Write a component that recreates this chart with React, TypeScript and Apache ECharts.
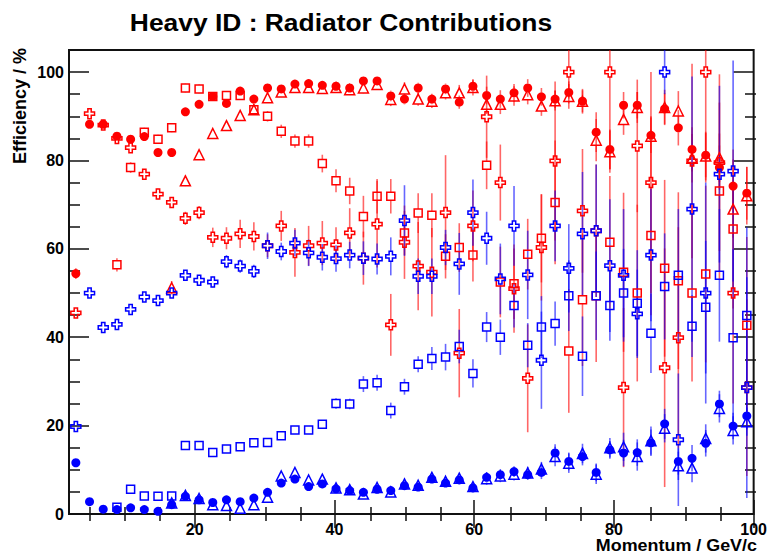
import React, { useEffect, useRef } from 'react';
import * as echarts from 'echarts';

// Bin centres (GeV/c): 50 bins between 2 and 100
const momentum = [
  2.98, 4.94, 6.90, 8.86, 10.82, 12.78, 14.74, 16.70, 18.66, 20.62,
  22.58, 24.54, 26.50, 28.46, 30.42, 32.38, 34.34, 36.30, 38.26, 40.22,
  42.18, 44.14, 46.10, 48.06, 50.02, 51.98, 53.94, 55.90, 57.86, 59.82,
  61.78, 63.74, 65.70, 67.66, 69.62, 71.58, 73.54, 75.50, 77.46, 79.42,
  81.38, 83.34, 85.30, 87.26, 89.22, 91.18, 93.14, 95.10, 97.06, 99.02,
];

const redAll = [
  54.4, 88.2, 88.2, 85.5, 84.8, 85.4, 81.8, 81.8, 91.0, 92.7,
  94.5, 92.9, 95.7, 93.9, 96.4, 96.2, 97.3, 97.4, 97.0, 96.8,
  96.4, 98.0, 98.0, 94.6, 93.9, 96.4, 93.9, 96.2, 93.2, 96.8,
  94.7, 93.9, 95.3, 96.4, 94.4, 93.9, 95.4, 93.4, 86.4, 82.5,
  92.5, 92.5, 85.7, 91.7, 87.4, 82.5, 81.2, 78.4, 74.2, 72.6,
];
const redAllErr = [
  1.2, 0.8, 0.8, 0.8, 0.8, 0.8, 0.8, 0.8, 0.8, 0.8,
  0.8, 0.8, 0.8, 0.8, 0.8, 0.8, 0.8, 0.8, 0.8, 0.8,
  1.0, 1.0, 1.0, 1.2, 1.2, 1.2, 1.2, 1.2, 1.5, 1.5,
  2.0, 2.0, 2.0, 2.0, 2.0, 2.0, 2.5, 2.5, 4.5, 4.5,
  3.0, 3.0, 4.0, 3.5, 4.0, 5.0, 5.0, 5.0, 6.0, 6.0,
];

const redTri = [
  null, null, null, null, null, null, null, 51.2, 75.4, 81.3,
  86.1, 87.9, 90.2, 91.5, 94.2, 95.5, 96.5, 96.5, 96.3, 96.5,
  96.0, 96.4, 97.2, 93.8, 96.2, 93.9, 93.4, 95.3, 95.3, 96.5,
  92.7, 92.7, 94.6, 94.9, 92.3, 93.5, 94.5, 93.4, 84.6, 82.0,
  89.3, 92.0, 85.5, 92.0, 91.2, 80.5, 81.0, 80.6, 69.0, 72.0,
];
const redTriErr = [
  0, 0, 0, 0, 0, 0, 0, 1.5, 1.2, 1.0,
  1.0, 1.0, 1.0, 1.0, 1.0, 1.0, 1.0, 1.0, 1.0, 1.0,
  1.2, 1.2, 1.2, 1.5, 1.5, 1.5, 1.5, 1.5, 1.8, 1.8,
  2.2, 2.2, 2.2, 2.2, 2.2, 2.2, 2.8, 2.8, 4.8, 4.8,
  3.5, 3.5, 4.5, 4.0, 4.5, 5.5, 5.5, 5.5, 6.5, 6.5,
];

const redSq = [
  null, null, null, 56.4, 78.4, 86.4, 84.8, 87.4, 96.4, 96.2,
  94.5, 94.7, 94.7, 91.5, 90.0, 86.6, 84.4, 84.4, 79.3, 75.4,
  73.1, 67.3, 71.9, 71.9, 63.6, 68.1, 67.6, 58.3, 60.3, 58.6,
  78.9, 52.5, 52.1, 58.8, 62.4, 70.5, 36.9, 48.5, 49.4, 61.5,
  54.7, 50.0, 63.0, 55.6, 52.8, 50.0, 54.3, 73.1, 64.5, 42.7,
];
const redSqErr = [
  0, 0, 0, 1.5, 1.2, 1.0, 1.0, 1.0, 1.0, 1.0,
  1.0, 1.0, 1.0, 1.2, 1.2, 1.5, 1.5, 1.5, 2.0, 2.6,
  3.0, 4.7, 3.9, 3.9, 5.0, 4.5, 5.0, 5.0, 5.5, 6.0,
  5.4, 8.0, 8.0, 8.0, 10.0, 14.0, 14.0, 15.0, 15.0, 15.0,
  18.0, 20.0, 18.0, 20.0, 20.0, 20.0, 20.0, 20.0, 18.0, 20.0,
];

const redCross = [
  45.5, 90.6, 88.0, 85.0, 82.9, 76.9, 72.4, 70.5, 66.9, 68.2,
  62.6, 62.4, 63.4, 62.8, 60.7, 65.2, 59.2, 60.7, 61.3, 60.9,
  63.6, 57.9, 65.6, 42.8, 61.5, 56.1, 54.7, 68.2, 36.4, 65.2,
  89.9, 75.0, 51.0, 30.7, 60.3, 79.9, 100.0, 68.6, 64.1, 100.0,
  28.6, 83.3, 75.0, 33.1, 39.9, 79.9, 100.0, 79.5, 50.0, 28.6,
];
const redCrossErr = [
  1.0, 1.0, 1.0, 1.0, 1.0, 1.0, 1.2, 1.2, 1.5, 1.5,
  2.2, 2.5, 3.2, 3.2, 2.6, 3.4, 5.5, 4.5, 5.0, 4.0,
  5.6, 6.0, 9.8, 7.0, 8.3, 10.0, 10.0, 13.0, 10.0, 8.0,
  9.3, 8.6, 10.0, 12.2, 12.0, 18.0, 6.0, 14.0, 15.0, 22.0,
  18.0, 15.0, 25.0, 27.0, 25.0, 22.0, 25.0, 20.0, 25.0, 20.0,
];

const blueAll = [
  11.6, 2.8, 1.1, 1.0, 1.4, 1.0, 0.6, 2.1, 4.0, 3.2,
  2.6, 3.2, 2.8, 3.6, 4.9, 7.0, 7.9, 6.2, 6.8, 5.7,
  5.3, 4.9, 5.6, 5.3, 6.4, 6.1, 7.9, 7.0, 7.7, 5.9,
  8.3, 8.9, 9.6, 8.9, 9.4, 13.8, 11.9, 13.0, 9.4, 14.5,
  13.8, 13.9, 16.1, 20.4, 11.9, 12.6, 16.0, 24.9, 19.9, 22.2,
];
const blueAllErr = [
  0.8, 0.5, 0.5, 0.5, 0.5, 0.5, 0.5, 0.5, 0.6, 0.6,
  0.6, 0.6, 0.6, 0.6, 0.6, 0.6, 0.6, 0.6, 0.6, 0.6,
  0.8, 0.8, 0.8, 0.8, 0.8, 0.8, 0.8, 0.8, 0.8, 0.8,
  1.2, 1.2, 1.2, 1.2, 1.5, 2.0, 2.0, 2.0, 2.0, 2.0,
  3.0, 3.0, 3.0, 3.4, 3.0, 3.0, 3.0, 3.0, 3.0, 3.0,
];

const blueTri = [
  null, null, null, null, null, null, null, 2.5, 4.2, 3.5,
  2.1, 1.9, 1.3, 2.1, 3.8, 8.6, 9.4, 7.7, 7.9, 5.9,
  5.5, 4.5, 6.0, 5.0, 6.8, 6.5, 8.3, 7.4, 8.1, 6.2,
  8.0, 8.6, 9.0, 9.3, 10.2, 13.0, 11.5, 13.7, 9.0, 15.0,
  15.2, 13.0, 16.6, 19.4, 10.9, 10.4, 17.1, 23.9, 18.9, 20.9,
];
const blueTriErr = [
  0, 0, 0, 0, 0, 0, 0, 0.6, 0.6, 0.6,
  0.7, 0.7, 0.7, 0.7, 0.7, 0.7, 0.7, 0.7, 0.7, 0.7,
  0.9, 0.9, 0.9, 0.9, 0.9, 0.9, 0.9, 0.9, 0.9, 0.9,
  1.4, 1.4, 1.4, 1.4, 1.6, 2.2, 2.2, 2.2, 2.2, 2.2,
  3.2, 3.2, 3.2, 3.2, 3.2, 3.2, 3.2, 3.2, 3.2, 3.2,
];

const blueSq = [
  null, null, null, 1.5, 5.6, 4.1, 4.0, 4.1, 15.5, 15.5,
  13.9, 14.7, 15.2, 16.1, 16.2, 17.7, 19.0, 19.0, 20.3, 25.0,
  24.9, 29.4, 29.7, 23.4, 28.8, 33.9, 35.2, 35.5, 37.9, 31.8,
  42.3, 40.0, 47.2, 38.2, 42.3, 43.1, 49.4, 35.7, 49.4, 47.2,
  50.0, 47.7, 40.9, 51.5, 54.0, 42.5, 46.8, 54.0, 39.9, 44.9,
];
const blueSqErr = [
  0, 0, 0, 0.7, 0.7, 0.7, 0.7, 0.7, 0.7, 0.7,
  0.7, 0.7, 0.7, 0.7, 0.7, 0.8, 0.8, 0.8, 0.9, 1.2,
  1.2, 1.8, 1.8, 1.8, 1.8, 1.8, 2.6, 3.0, 3.8, 3.2,
  3.4, 4.0, 5.0, 5.0, 7.0, 5.0, 8.0, 9.0, 10.0, 8.0,
  10.0, 12.0, 9.0, 12.0, 15.0, 7.0, 15.0, 15.0, 20.0, 20.0,
];

const blueCross = [
  19.8, 50.0, 42.2, 42.9, 46.3, 49.1, 48.3, 50.0, 54.0, 52.9,
  52.5, 57.1, 56.1, 54.9, 60.7, 59.4, 61.3, 59.1, 58.1, 57.8,
  58.6, 57.9, 57.7, 58.3, 66.4, 53.8, 53.8, 60.3, 56.6, 68.2,
  62.4, 53.2, 65.2, 54.1, 34.8, 65.2, 55.6, 63.4, 64.1, 56.2,
  54.0, 45.3, 58.6, 100.0, 16.8, 69.0, 50.0, 76.9, 77.6, 28.6,
];
const blueCrossErr = [
  0.8, 0.8, 0.8, 0.8, 0.8, 0.8, 0.8, 0.8, 1.0, 1.0,
  1.2, 1.5, 1.5, 1.5, 3.0, 2.0, 3.0, 3.0, 3.0, 3.0,
  3.0, 3.8, 3.5, 4.3, 8.0, 4.0, 4.0, 4.0, 7.0, 7.5,
  6.0, 8.0, 9.0, 10.0, 11.0, 8.0, 10.0, 14.0, 15.0, 15.0,
  15.0, 10.0, 15.0, 5.0, 15.0, 30.0, 25.0, 20.0, 25.0, 25.0,
];

const xTickLabels = [20, 40, 60, 80, 100];
const xMinorTicks = [5, 10, 15, 25, 30, 35, 45, 50, 55, 65, 70, 75, 85, 90, 95];
const yTickLabels = [0, 20, 40, 60, 80, 100];
const yMinorTicks = [5, 10, 15, 25, 30, 35, 45, 50, 55, 65, 70, 75, 85, 90, 95];

const FONT = '"Liberation Sans", Arial, Helvetica, sans-serif';
const RED = '#ff0000';
const BLUE = '#0000ff';
const CROSS = 'path://M3 0H6V3H9V6H6V9H3V6H0V3H3Z';

function points(ys: (number | null)[], errs: number[]) {
  const out: number[][] = [];
  ys.forEach((y, i) => {
    if (y !== null && y !== undefined) out.push([momentum[i], y, errs[i]]);
  });
  return out;
}

function errSeries(ys: (number | null)[], errs: number[], color: string, gap: number) {
  return {
    type: 'custom',
    xAxisIndex: 0,
    yAxisIndex: 0,
    clip: true,
    silent: true,
    z: 2,
    encode: { x: 0, y: 1 },
    data: points(ys, errs),
    renderItem: (params: any, api: any) => {
      const x = api.value(0);
      const y = api.value(1);
      const e = api.value(2);
      const c = api.coord([x, y]);
      const hi = api.coord([x, y + e]);
      const lo = api.coord([x, y - e]);
      const style = { stroke: color, lineWidth: 1.6 };
      const children: any[] = [];
      if (c[1] - gap > hi[1]) {
        children.push({ type: 'line', shape: { x1: c[0], y1: hi[1], x2: c[0], y2: c[1] - gap }, style });
      }
      if (lo[1] > c[1] + gap) {
        children.push({ type: 'line', shape: { x1: c[0], y1: c[1] + gap, x2: c[0], y2: lo[1] }, style });
      }
      return { type: 'group', children };
    },
  };
}

function markerSeries(ys: (number | null)[], errs: number[], color: string, symbol: string, size: number, filled: boolean) {
  return {
    type: 'scatter',
    xAxisIndex: 0,
    yAxisIndex: 0,
    silent: true,
    z: 3,
    symbol,
    symbolSize: size,
    data: points(ys, errs).map((p) => [p[0], p[1]]),
    itemStyle: filled
      ? { color, borderWidth: 0, opacity: 1 }
      : { color: 'rgba(255,255,255,0)', borderColor: color, borderWidth: 1.5, opacity: 1 },
  };
}

export default function App() {
  const ref = useRef<HTMLDivElement>(null);

  useEffect(() => {
    if (!ref.current) return;
    const chart = echarts.init(ref.current, null, { renderer: 'svg' });
    const GRID = { left: 69, right: 14, top: 50, bottom: 41 };
    const tickStyle = { color: '#111', width: 1.5 };
    const xBase = { type: 'value', min: 2, max: 100, axisLine: { show: false }, splitLine: { show: false } };
    const yBase = { type: 'value', min: 0, max: 105, axisLine: { show: false }, splitLine: { show: false } };
    const labelStyle = { color: '#000', fontFamily: FONT, fontWeight: 'bold', fontSize: 16 };
    const redErr = 'rgba(255,0,0,0.6)';
    const blueErr = 'rgba(0,0,255,0.6)';

    const option: any = {
      animation: false,
      backgroundColor: '#ffffff',
      grid: [
        { ...GRID, show: true, borderColor: '#111', borderWidth: 2, backgroundColor: 'rgba(0,0,0,0)' },
        { ...GRID, show: false },
      ],
      xAxis: [
        {
          ...xBase, gridIndex: 0, position: 'bottom',
          axisTick: { show: true, inside: true, length: 14, customValues: xTickLabels, lineStyle: tickStyle },
          axisLabel: { show: true, customValues: xTickLabels, margin: 7, ...labelStyle },
        },
        {
          ...xBase, gridIndex: 0, position: 'top',
          axisTick: { show: true, inside: true, length: 14, customValues: xTickLabels, lineStyle: tickStyle },
          axisLabel: { show: false },
        },
        {
          ...xBase, gridIndex: 1, position: 'bottom',
          axisTick: { show: true, inside: true, length: 7, customValues: xMinorTicks, lineStyle: tickStyle },
          axisLabel: { show: false },
        },
        {
          ...xBase, gridIndex: 1, position: 'top',
          axisTick: { show: true, inside: true, length: 7, customValues: xMinorTicks, lineStyle: tickStyle },
          axisLabel: { show: false },
        },
      ],
      yAxis: [
        {
          ...yBase, gridIndex: 0, position: 'left',
          axisTick: { show: true, inside: true, length: 20, customValues: yTickLabels, lineStyle: tickStyle },
          axisLabel: { show: true, customValues: yTickLabels, margin: 5, ...labelStyle },
        },
        {
          ...yBase, gridIndex: 0, position: 'right',
          axisTick: { show: true, inside: true, length: 20, customValues: yTickLabels, lineStyle: tickStyle },
          axisLabel: { show: false },
        },
        {
          ...yBase, gridIndex: 1, position: 'left',
          axisTick: { show: true, inside: true, length: 11, customValues: yMinorTicks, lineStyle: tickStyle },
          axisLabel: { show: false },
        },
        {
          ...yBase, gridIndex: 1, position: 'right',
          axisTick: { show: true, inside: true, length: 11, customValues: yMinorTicks, lineStyle: tickStyle },
          axisLabel: { show: false },
        },
      ],
      graphic: [
        {
          type: 'text', x: 341, y: 22, scaleX: 1.1, silent: true,
          style: { text: 'Heavy ID : Radiator Contributions', fill: '#000', font: `bold 24px ${FONT}`, align: 'center', verticalAlign: 'middle' },
        },
        {
          type: 'text', x: 757, y: 546, scaleX: 1.12, silent: true,
          style: { text: 'Momentum / GeV/c', fill: '#000', font: `bold 16px ${FONT}`, align: 'right', verticalAlign: 'middle' },
        },
        {
          type: 'text', x: 20, y: 48, rotation: Math.PI / 2, silent: true,
          style: { text: 'Efficiency / %', fill: '#000', font: `bold 18px ${FONT}`, align: 'right', verticalAlign: 'middle' },
        },
      ],
      series: [
        errSeries(redSq, redSqErr, redErr, 4),
        errSeries(redCross, redCrossErr, redErr, 5),
        errSeries(redTri, redTriErr, redErr, 5),
        errSeries(redAll, redAllErr, redErr, 4.5),
        errSeries(blueSq, blueSqErr, blueErr, 4),
        errSeries(blueCross, blueCrossErr, blueErr, 5),
        errSeries(blueTri, blueTriErr, blueErr, 5),
        errSeries(blueAll, blueAllErr, blueErr, 4.5),
        markerSeries(redSq, redSqErr, RED, 'rect', 8, false),
        markerSeries(redCross, redCrossErr, RED, CROSS, 10, false),
        markerSeries(redTri, redTriErr, RED, 'triangle', 10, false),
        markerSeries(redAll, redAllErr, RED, 'circle', 9, true),
        markerSeries(blueSq, blueSqErr, BLUE, 'rect', 8, false),
        markerSeries(blueCross, blueCrossErr, BLUE, CROSS, 10, false),
        markerSeries(blueTri, blueTriErr, BLUE, 'triangle', 10, false),
        markerSeries(blueAll, blueAllErr, BLUE, 'circle', 9, true),
      ],
    };

    chart.setOption(option);
    return () => chart.dispose();
  }, []);

  return (
    <div
      ref={ref}
      style={{ position: 'fixed', left: 0, top: 0, width: 770, height: 555, background: '#fff' }}
    />
  );
}
